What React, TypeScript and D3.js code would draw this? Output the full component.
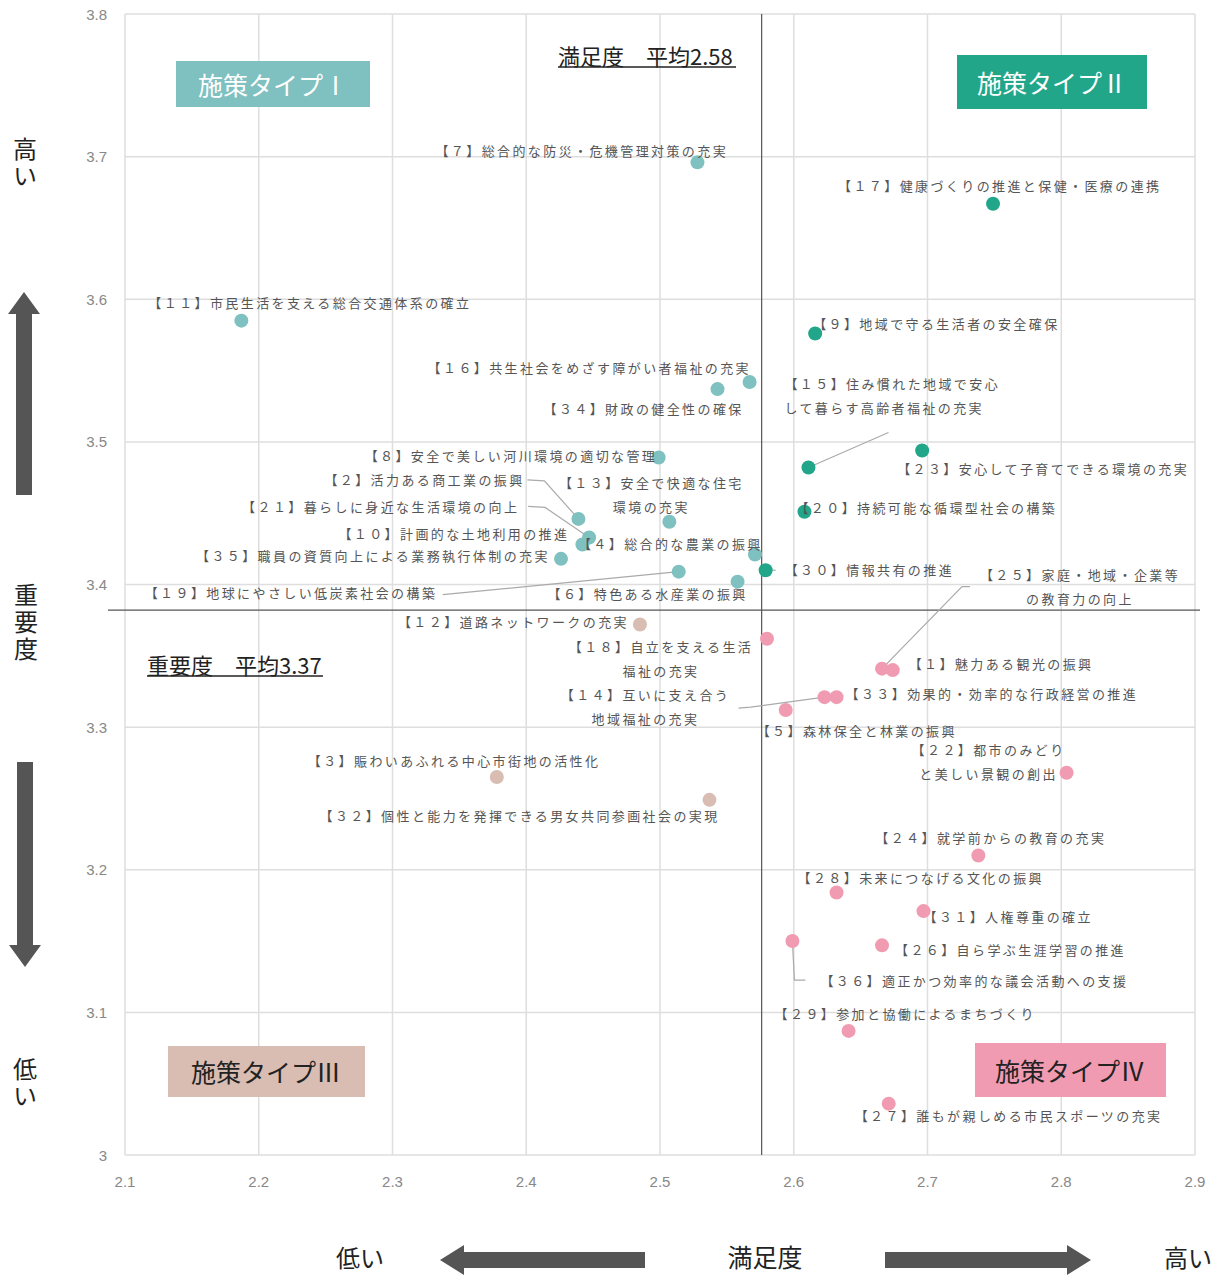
import React from "react";
import * as d3 from "d3";

// ---- data ----
const policyIds = [1,2,3,4,5,6,7,8,9,10,11,12,13,14,15,16,17,18,19,20,21,22,23,24,25,26,27,28,29,30,31,32,33,34,35,36];
const policyNames = [
  "魅力ある観光の振興",
  "活力ある商工業の振興",
  "賑わいあふれる中心市街地の活性化",
  "総合的な農業の振興",
  "森林保全と林業の振興",
  "特色ある水産業の振興",
  "総合的な防災・危機管理対策の充実",
  "安全で美しい河川環境の適切な管理",
  "地域で守る生活者の安全確保",
  "計画的な土地利用の推進",
  "市民生活を支える総合交通体系の確立",
  "道路ネットワークの充実",
  "安全で快適な住宅\n環境の充実",
  "互いに支え合う\n地域福祉の充実",
  "住み慣れた地域で安心\nして暮らす高齢者福祉の充実",
  "共生社会をめざす障がい者福祉の充実",
  "健康づくりの推進と保健・医療の連携",
  "自立を支える生活\n福祉の充実",
  "地球にやさしい低炭素社会の構築",
  "持続可能な循環型社会の構築",
  "暮らしに身近な生活環境の向上",
  "都市のみどり\nと美しい景観の創出",
  "安心して子育てできる環境の充実",
  "就学前からの教育の充実",
  "家庭・地域・企業等\nの教育力の向上",
  "自ら学ぶ生涯学習の推進",
  "誰もが親しめる市民スポーツの充実",
  "未来につなげる文化の振興",
  "参加と協働によるまちづくり",
  "情報共有の推進",
  "人権尊重の確立",
  "個性と能力を発揮できる男女共同参画社会の実現",
  "効果的・効率的な行政経営の推進",
  "財政の健全性の確保",
  "職員の資質向上による業務執行体制の充実",
  "適正かつ効率的な議会活動への支援",
];
// 満足度 (x)
const satisfaction = [2.674,2.439,2.378,2.571,2.594,2.558,2.528,2.499,2.616,2.442,2.187,2.485,2.507,2.623,2.611,2.567,2.749,2.580,2.514,2.608,2.447,2.804,2.696,2.738,2.666,2.666,2.671,2.632,2.641,2.579,2.697,2.537,2.632,2.543,2.426,2.599];
// 重要度 (y)
const importance = [3.340,3.446,3.265,3.421,3.312,3.402,3.696,3.489,3.576,3.428,3.585,3.372,3.444,3.321,3.482,3.542,3.667,3.362,3.409,3.451,3.433,3.268,3.494,3.210,3.341,3.147,3.036,3.184,3.087,3.410,3.171,3.249,3.321,3.537,3.418,3.150];

const avgSatisfaction = 2.576;
const avgImportance = 3.382;
const avgSatisfactionLabel = "満足度　平均2.58";
const avgImportanceLabel = "重要度　平均3.37";

const xTicks = [2.1,2.2,2.3,2.4,2.5,2.6,2.7,2.8,2.9];
const yTicks = [3,3.1,3.2,3.3,3.4,3.5,3.6,3.7,3.8];

const quadrantNames = ["施策タイプⅠ","施策タイプⅡ","施策タイプⅢ","施策タイプⅣ"];

// ---- layout / style (label offsets in px from point) ----
const labelLayout: Record<number, [number, number, string]> = {
  1: [16, -7, "start"], 2: [-254, -39, "start"], 3: [-189, -17, "start"], 4: [-177, -11, "start"],
  5: [-29, 20, "start"], 6: [-190, 12, "start"], 7: [-262, -12, "start"], 8: [-294, -2, "start"],
  9: [-2, -10, "start"], 10: [-244, -11, "start"], 11: [-93, -18, "start"], 12: [-242, -3, "start"],
  13: [-18, -39, "middle"], 14: [-179, -3, "middle"], 15: [-24, -84, "start"], 16: [-322, -14, "start"],
  17: [-155, -18, "start"], 18: [-106, 8, "middle"], 19: [-534, 21, "start"], 20: [-9, -4, "start"],
  21: [-347, -31, "start"], 22: [-78, -23, "middle"], 23: [-25, 18, "start"], 24: [-103, -18, "start"],
  25: [198, -94, "middle"], 26: [13, 4, "start"], 27: [-34, 12, "start"], 28: [-39, -15, "start"],
  29: [-74, -17, "start"], 30: [19, -1, "start"], 31: [0, 5, "start"], 32: [-390, 16, "start"],
  33: [9, -4, "start"], 34: [-174, 19, "start"], 35: [-365, -3, "start"], 36: [28, 39, "start"],
};
const leaderLines: Record<number, [number, number][]> = {
  2: [[-51, -39], [-34, -38], [0, 0]],
  21: [[-61, -31], [-44, -30], [0, 0]],
  19: [[-236, 23], [0, 0]],
  15: [[80, -35], [0, 0]],
  30: [[0, 0], [10, 0]],
  25: [[88, -82], [80, -82], [0, 0]],
  14: [[-86, 11], [-74, 10], [0, 0]],
  36: [[0, 0], [2, 39], [13, 39]],
};

const quadColors = ["#7fc0c0", "#22a68a", "#d9bcb2", "#f09bb1"];

const W = 1225, H = 1275;
const x = d3.scaleLinear().domain([2.1, 2.9]).range([125, 1195]);
const y = d3.scaleLinear().domain([3.0, 3.8]).range([1155, 14]);

const toFull = (s: string) => s.replace(/\d/g, (d) => String.fromCharCode(d.charCodeAt(0) + 0xfee0));
const JP = "'Noto Sans CJK JP', 'Noto Sans', sans-serif";

function quadrantOf(sx: number, iy: number) {
  if (iy >= avgImportance) return sx < avgSatisfaction ? 0 : 1;
  return sx < avgSatisfaction ? 2 : 3;
}

function HArrow({ x1, x2, cy }: { x1: number; x2: number; cy: number }) {
  const dir = x2 > x1 ? 1 : -1;
  const head = 24;
  const sh = 8, hh = 15;
  const hx = x2 - dir * head;
  const pts = [[x1, cy - sh], [hx, cy - sh], [hx, cy - hh], [x2, cy], [hx, cy + hh], [hx, cy + sh], [x1, cy + sh]];
  return <polygon points={pts.map((p) => p.join(",")).join(" ")} fill="#555" />;
}
function VArrow({ y1, y2, cx }: { y1: number; y2: number; cx: number }) {
  const dir = y2 > y1 ? 1 : -1;
  const head = 22;
  const sw = 8, hw = 16;
  const hy = y2 - dir * head;
  const pts = [[cx - sw, y1], [cx - sw, hy], [cx - hw, hy], [cx, y2], [cx + hw, hy], [cx + sw, hy], [cx + sw, y1]];
  return <polygon points={pts.map((p) => p.join(",")).join(" ")} fill="#555" />;
}

function VText({ cx, cy, children }: { cx: number; cy: number; children: string }) {
  return (
    <text x={cx} y={cy} textAnchor="middle" fontSize={24} fill="#222" letterSpacing={3}
      style={{ writingMode: "vertical-rl", textOrientation: "upright" } as any}>{children}</text>
  );
}

export default function App() {
  const pts = policyIds.map((id, i) => ({
    id, name: policyNames[i], sx: satisfaction[i], iy: importance[i], q: quadrantOf(satisfaction[i], importance[i]),
  }));
  const [x0, x1] = x.range();
  const [y0, y1] = [y(3.8), y(3.0)];
  return (
    <svg width={W} height={H} style={{ position: "absolute", left: 0, top: 0, background: "#fff" }} fontFamily={JP}>
      {/* grid */}
      {xTicks.map((t) => (
        <line key={"gx" + t} x1={x(t)} x2={x(t)} y1={y0} y2={y1} stroke="#dedede" strokeWidth={1.5} />
      ))}
      {yTicks.map((t) => (
        <line key={"gy" + t} x1={x0} x2={x1} y1={y(t)} y2={y(t)} stroke="#dedede" strokeWidth={1.5} />
      ))}
      {/* tick labels */}
      {yTicks.map((t) => (
        <text key={"ty" + t} x={107} y={y(t)} textAnchor="end" dominantBaseline="central" fontSize={15}
          fill="#888" fontFamily="'Liberation Sans Narrow','Liberation Sans',sans-serif">{String(t)}</text>
      ))}
      {xTicks.map((t) => (
        <text key={"tx" + t} x={x(t)} y={1181} textAnchor="middle" dominantBaseline="central" fontSize={15}
          fill="#888" fontFamily="'Liberation Sans Narrow','Liberation Sans',sans-serif">{String(t)}</text>
      ))}
      {/* mean lines */}
      <line x1={x(avgSatisfaction)} x2={x(avgSatisfaction)} y1={y0} y2={y1} stroke="#555" strokeWidth={1.2} />
      <line x1={108} x2={1200} y1={y(avgImportance)} y2={y(avgImportance)} stroke="#555" strokeWidth={1.2} />

      {/* quadrant boxes */}
      <rect x={176} y={61} width={194} height={46} fill={quadColors[0]} />
      <text x={273} y={84} textAnchor="middle" dominantBaseline="central" fontSize={25} fill="#fff">{quadrantNames[0]}</text>
      <rect x={957} y={55} width={190} height={54} fill={quadColors[1]} />
      <text x={1052} y={82} textAnchor="middle" dominantBaseline="central" fontSize={25} fill="#fff">{quadrantNames[1]}</text>
      <rect x={168} y={1046} width={197} height={51} fill={quadColors[2]} />
      <text x={266} y={1071} textAnchor="middle" dominantBaseline="central" fontSize={25} fill="#222">{quadrantNames[2]}</text>
      <rect x={975} y={1043} width={191} height={54} fill={quadColors[3]} />
      <text x={1070} y={1070} textAnchor="middle" dominantBaseline="central" fontSize={25} fill="#222">{quadrantNames[3]}</text>

      {/* average labels */}
      <text x={558} y={55} dominantBaseline="central" fontSize={22} fill="#222">{avgSatisfactionLabel}</text>
      <line x1={558} x2={736} y1={67} y2={67} stroke="#222" strokeWidth={1.5} />
      <text x={147} y={664} dominantBaseline="central" fontSize={22} fill="#222">{avgImportanceLabel}</text>
      <line x1={147} x2={323} y1={676} y2={676} stroke="#222" strokeWidth={1.5} />

      {/* leader lines */}
      {pts.filter((p) => leaderLines[p.id]).map((p) => {
        const px = x(p.sx), py = y(p.iy);
        const line = d3.line()(leaderLines[p.id].map(([dx, dy]) => [px + dx, py + dy] as [number, number]));
        return <path key={"ll" + p.id} d={line || ""} fill="none" stroke="#aaa" strokeWidth={1.2} />;
      })}

      {/* points */}
      {pts.map((p) => (
        <circle key={"c" + p.id} cx={x(p.sx)} cy={y(p.iy)} r={7} fill={quadColors[p.q]} />
      ))}

      {/* labels */}
      {pts.map((p) => {
        const [dx, dy, anchor] = labelLayout[p.id];
        const lines = p.name.split("\n");
        lines[0] = "【" + toFull(String(p.id)) + "】" + lines[0];
        const px = x(p.sx), py = y(p.iy);
        return (
          <text key={"l" + p.id} fontSize={13} fill="#555" letterSpacing={2.4} textAnchor={anchor}>
            {lines.map((ln, k) => (
              <tspan key={k} x={px + dx} y={py + dy + k * 24} dominantBaseline="central">{ln}</tspan>
            ))}
          </text>
        );
      })}

      {/* y axis title */}
      <VText cx={25} cy={164}>高い</VText>
      <VArrow cx={24} y1={495} y2={292} />
      <VText cx={26} cy={623}>重要度</VText>
      <VArrow cx={25} y1={762} y2={967} />
      <VText cx={25} cy={1084}>低い</VText>

      {/* x axis title */}
      <text x={360} y={1256} textAnchor="middle" dominantBaseline="central" fontSize={24} fill="#222">低い</text>
      <HArrow x1={645} x2={440} cy={1260} />
      <text x={765} y={1256} textAnchor="middle" dominantBaseline="central" fontSize={25} fill="#222">満足度</text>
      <HArrow x1={885} x2={1091} cy={1260} />
      <text x={1188} y={1256} textAnchor="middle" dominantBaseline="central" fontSize={24} fill="#222">高い</text>
    </svg>
  );
}
